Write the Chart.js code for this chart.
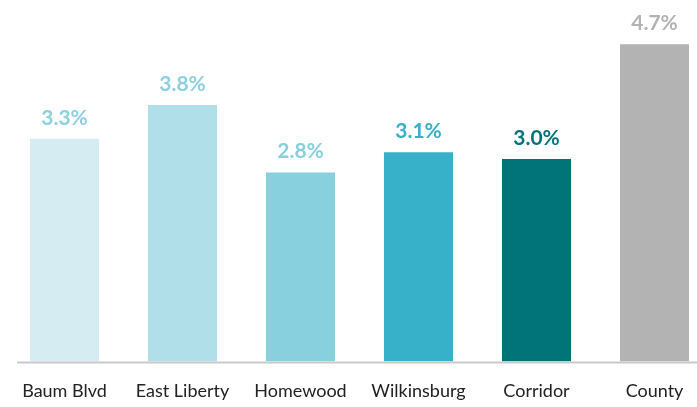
<!DOCTYPE html>
<html>
<head>
<meta charset="utf-8">
<script src="https://cdn.jsdelivr.net/npm/chart.js@4/dist/chart.umd.min.js"></script>
<style>
  html, body { margin: 0; padding: 0; background: #fff; overflow: hidden; }
  #wrap { width: 720px; height: 407px; }
</style>
</head>
<body>
<div id="wrap"><canvas id="c" width="720" height="407"></canvas></div>
<script>
// Share of residents, by area
const categories = ["Baum Blvd", "East Liberty", "Homewood", "Wilkinsburg", "Corridor", "County"];
const values = [3.3, 3.8, 2.8, 3.1, 3.0, 4.7];
const barColors = ["#d6ecf3", "#b0dfe9", "#88d0de", "#37b0c9", "#007479", "#b3b3b3"];
const labelColors = ["#8fd0df", "#8fd0df", "#88d0de", "#37b0c9", "#007479", "#b3b3b3"];

// Value labels above each bar, plus the baseline rule
const barLabels = {
  id: "barLabels",
  afterDatasetsDraw(chart) {
    const ctx = chart.ctx;
    const meta = chart.getDatasetMeta(0);
    ctx.save();
    ctx.font = "bold 21px Lato, sans-serif";
    ctx.textAlign = "center";
    ctx.textBaseline = "alphabetic";
    meta.data.forEach((bar, i) => {
      ctx.fillStyle = labelColors[i];
      ctx.fillText(values[i].toFixed(1) + "%", bar.x, bar.y - 14);
    });
    const y0 = chart.scales.y.getPixelForValue(0);
    ctx.strokeStyle = "#c9c9c9";
    ctx.lineWidth = 2;
    ctx.beginPath();
    ctx.moveTo(17, y0 + 1);
    ctx.lineTo(chart.width, y0 + 1);
    ctx.stroke();
    ctx.restore();
  }
};

new Chart(document.getElementById("c"), {
  type: "bar",
  data: {
    labels: categories,
    datasets: [{
      data: values,
      backgroundColor: barColors,
      barPercentage: 0.585,
      categoryPercentage: 1.0
    }]
  },
  options: {
    responsive: false,
    animation: false,
    layout: { padding: { left: 5.5, right: 6.5, top: 24, bottom: -14 } },
    plugins: { legend: { display: false }, tooltip: { enabled: false } },
    scales: {
      x: {
        grid: { display: false, drawTicks: false },
        border: { display: false },
        ticks: {
          color: "#222",
          font: { family: "Lato, sans-serif", size: 18 },
          padding: 19,
          maxRotation: 0
        }
      },
      y: {
        display: false,
        min: 0,
        max: 5.0
      }
    }
  },
  plugins: [barLabels]
});
</script>
</body>
</html>
